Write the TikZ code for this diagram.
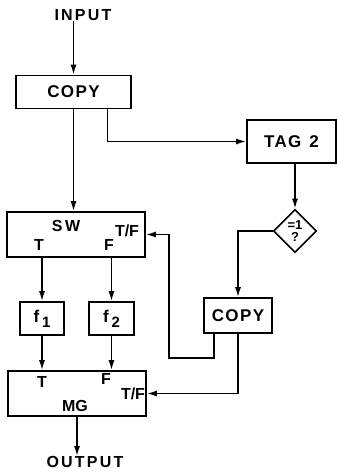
\documentclass[tikz,border=0pt]{standalone}
\usepackage{fontspec}
\setmainfont{Liberation Sans}
\usepackage{tikz}
\usetikzlibrary{shapes.geometric, arrows.meta, positioning}

\begin{document}
\begin{tikzpicture}[
    x=1pt, y=-1pt,
    box/.style={rectangle, draw, line width=1.6pt, inner sep=0pt, font=\fontsize{17}{20}\selectfont\bfseries\addfontfeature{LetterSpace=8}},
    test/.style={diamond, draw, line width=1.6pt, inner sep=0pt, minimum width=43pt, minimum height=43pt, align=center, font=\fontsize{13}{12}\selectfont\bfseries},
    lbl/.style={inner sep=0pt, font=\fontsize{16}{16}\selectfont\bfseries},
    io/.style={inner sep=0pt, font=\fontsize{16}{16}\selectfont\bfseries\addfontfeature{LetterSpace=14}},
    arrow/.style={-{Latex[length=10pt,width=6pt]}, line width=1.6pt}
]
\useasboundingbox (0,0) rectangle (338,475);

% Row 1: input and first copy
\node[io] at (83,15) (input) {INPUT};
\node[box, minimum width=115pt, minimum height=33pt] at (73.5,92) (copyA) {COPY};

% Row 2: tag and test on the right
\node[box, minimum width=89pt, minimum height=43pt] at (291.5,141.5) (tag) {TAG\hspace{8pt}2};
\node[test] at (295,231) (test) {=1\\?};

% Row 3: switch
\node[box, minimum width=138pt, minimum height=45pt] at (76,234.5) (sw) {};
\node[lbl] at (66,226) (swname) {S\,W};
\node[lbl] at (39,245) (swT) {T};
\node[lbl] at (109,245) (swF) {F};
\node[lbl] at (127,231) (swTF) {T/F};

% Row 4: functions and second copy
\node[box, minimum width=44pt, minimum height=33pt] at (42,318.5) (f1) {f\,\raisebox{-5pt}{\fontsize{15}{15}\selectfont 1}};
\node[box, minimum width=45pt, minimum height=33pt] at (111.5,318.5) (f2) {f\,\raisebox{-5pt}{\fontsize{15}{15}\selectfont 2}};
\node[box, minimum width=68pt, minimum height=35pt] at (238,315.5) (copyB) {COPY};

% Row 5: merge and output
\node[box, minimum width=138pt, minimum height=45pt] at (77,393.5) (mg) {};
\node[lbl] at (42,382) (mgT) {T};
\node[lbl] at (106,379) (mgF) {F};
\node[lbl] at (133,394) (mgTF) {T/F};
\node[lbl] at (75,406) (mgname) {MG};
\node[io] at (85,462) (output) {OUTPUT};

% Data path
\draw[arrow] (input.south -| copyA.north) -- (copyA.north);
\draw[arrow] (copyA.south) -- (copyA.south |- sw.north);
\draw[arrow] ([xshift=34pt]copyA.south) |- (tag.west);
\draw[arrow] (f1.north |- sw.south) -- (f1.north);
\draw[arrow] (f2.north |- sw.south) -- (f2.north);
\draw[arrow] (f1.south) -- (f1.south |- mg.north);
\draw[arrow] (f2.south) -- (f2.south |- mg.north);
\draw[arrow] (mg.south) -- (mg.south |- output.north);

% Control path
\draw[arrow] (tag.south -| test.north) -- (test.north);
\draw[arrow] (test.west) -| (copyB.north);
\draw[arrow] ([xshift=-24pt]copyB.south) -- ++(0,24) -| ([xshift=23pt]sw.east) -- (sw.east);
\draw[arrow] (copyB.south) |- (mg.east);

\end{tikzpicture}
\end{document}
